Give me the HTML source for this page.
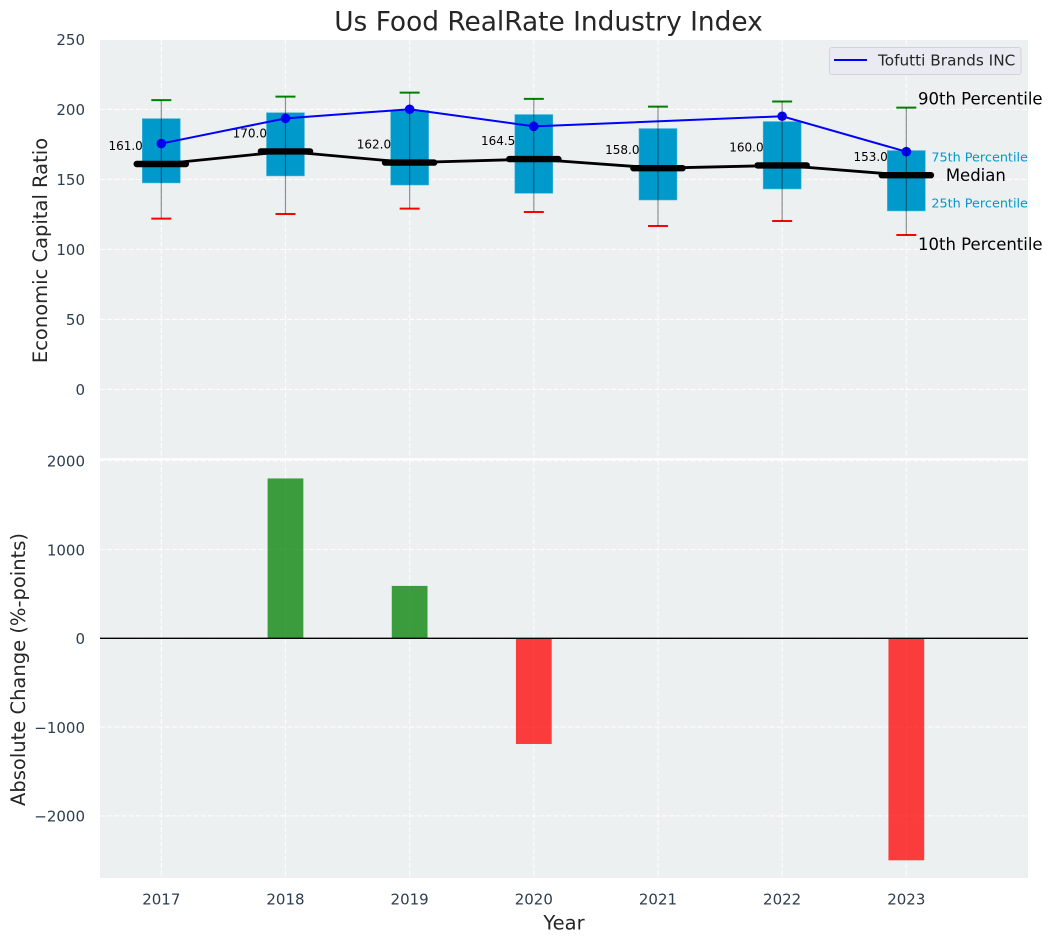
<!DOCTYPE html>
<html lang="en">
<head>
<meta charset="utf-8">
<title>Us Food RealRate Industry Index</title>
<style>
html,body{margin:0;padding:0;background:#fff;}
svg{display:block;font-family:"DejaVu Sans","Liberation Sans",sans-serif;}
</style>
</head>
<body>
<svg id="chart" xmlns="http://www.w3.org/2000/svg" width="1053" height="942" viewBox="0 0 1053 942">
  <rect x="100" y="40" width="928" height="419.5" fill="#ecf0f1"/>
  <rect x="100" y="460" width="928" height="418" fill="#ecf0f1"/>
  <g id="grid"></g>
  <g id="bars"></g>
  <g id="boxes"></g>
  <g id="series"></g>
  <g id="annotations"></g>
  <line x1="100" x2="1028" y1="459" y2="459" stroke="#ffffff" stroke-width="1.6"/>
  <g id="ticks"></g>

  <text x="548.5" y="22" text-anchor="middle" dominant-baseline="central" font-size="26.4" fill="#262626">Us Food RealRate Industry Index</text>
  <text transform="translate(40.5 250.5) rotate(-90)" text-anchor="middle" dominant-baseline="central" font-size="19.5" fill="#262626">Economic Capital Ratio</text>
  <text transform="translate(18.5 669.5) rotate(-90)" text-anchor="middle" dominant-baseline="central" font-size="19.5" fill="#262626">Absolute Change (%-points)</text>
  <text x="564" y="923" text-anchor="middle" dominant-baseline="central" font-size="19.5" fill="#262626">Year</text>

  <g>
    <rect x="829.5" y="47.5" width="191.5" height="27" rx="2.5" fill="#eaeaf2" stroke="#d2d3d8" stroke-width="1"/>
    <line x1="834" x2="867" y1="60" y2="60" stroke="#0000ff" stroke-width="2"/>
    <text x="878" y="60.5" dominant-baseline="central" font-size="15.3" fill="#262626">Tofutti Brands INC</text>
  </g>
</svg>
<script>
const years = [2017, 2018, 2019, 2020, 2021, 2022, 2023];
const p90 = [206.6, 209.1, 212, 207.5, 202, 205.6, 201.3];
const p75 = [193.4, 197.6, 199.2, 196.3, 186.3, 191.3, 170.6];
const medians = [161, 170, 162, 164.5, 158, 160, 153];
const p25 = [147.5, 152.5, 146, 140.1, 135.3, 143.2, 127.5];
const p10 = [122, 125.3, 129.1, 126.7, 116.7, 120.3, 110.3];
const companyValues = [175.6, 193.6, 200.1, 187.9, null, 195.1, 169.8];
const changeValues = [null, 1800, 590, -1190, null, null, -2500];
const upperTicks = [0, 50, 100, 150, 200, 250];
const lowerTicks = [-2000, -1000, 0, 1000, 2000];

const NS = 'http://www.w3.org/2000/svg';
function xScale(year) { return 161.3 + (year - 2017) * 124.17; }
function xLen(units) { return units * 124.17; }
function yUpper(v) { return 389.4 - v * 1.4; }
function yLower(v) { return 638.3 - v * 0.0888; }
function make(parent, tag, attrs, text) {
  const el = document.createElementNS(NS, tag);
  for (const k in attrs) el.setAttribute(k, attrs[k]);
  if (text !== undefined) el.textContent = text;
  parent.appendChild(el);
  return el;
}
const gridG = document.getElementById('grid');
const barsG = document.getElementById('bars');
const boxesG = document.getElementById('boxes');
const seriesG = document.getElementById('series');
const annG = document.getElementById('annotations');
const ticksG = document.getElementById('ticks');
const gridStyle = { stroke: '#ffffff', 'stroke-width': 1.1, 'stroke-dasharray': '5 2.2', opacity: 0.9 };

/* grid and tick labels */
years.forEach(function (yr) {
  const x = xScale(yr);
  const a = make(gridG, 'line', Object.assign({ x1: x, x2: x, y1: 40, y2: 459 }, gridStyle));
  
  
  const b = make(gridG, 'line', Object.assign({ x1: x, x2: x, y1: 460, y2: 878 }, gridStyle));
  
  
  const t = make(ticksG, 'text', { x: x, y: 899.5, 'text-anchor': 'middle', 'dominant-baseline': 'central', 'font-size': 15, fill: '#2c3e50' }, String(yr));
  
  
});
upperTicks.forEach(function (v) {
  const y = yUpper(v);
  const g = make(gridG, 'line', Object.assign({ x1: 100, x2: 1028, y1: y, y2: y }, gridStyle));
  
  
  const t = make(ticksG, 'text', { x: 85, y: y + 0.8, 'text-anchor': 'end', 'dominant-baseline': 'central', 'font-size': 15, fill: '#2c3e50' }, String(v));
  
  
});
lowerTicks.forEach(function (v) {
  const y = yLower(v);
  const g = make(gridG, 'line', Object.assign({ x1: 100, x2: 1028, y1: y, y2: y }, gridStyle));
  
  
  const label = v < 0 ? '\u2212' + Math.abs(v) : String(v);
  const t = make(ticksG, 'text', { x: 85, y: y + 0.8, 'text-anchor': 'end', 'dominant-baseline': 'central', 'font-size': 15, fill: '#2c3e50' }, label);
  
  
});

/* change bars */
years.forEach(function (yr, i) {
  const v = changeValues[i];
  if (v === null) return;
  const w = xLen(0.288);
  const y0 = yLower(0), y1 = yLower(v);
  const r = make(barsG, 'rect', {
    x: xScale(yr) - w / 2, y: Math.min(y0, y1), width: w, height: Math.abs(y1 - y0),
    fill: v >= 0 ? '#008000' : '#ff0000', 'fill-opacity': 0.75
  });
  
  
});
const zero = make(barsG, 'line', { x1: 100, x2: 1028, y1: yLower(0), y2: yLower(0), stroke: '#000000', 'stroke-width': 1.3 });



/* percentile boxes and caps */
years.forEach(function (yr, i) {
  const x = xScale(yr);
  const w = xLen(0.305);
  const box = make(boxesG, 'rect', {
    x: x - w / 2, y: yUpper(p75[i]), width: w, height: yUpper(p25[i]) - yUpper(p75[i]),
    fill: '#0099cc', stroke: '#3fb2d8', 'stroke-width': 0.6
  });
  
  
  const capTop = make(boxesG, 'line', { x1: x - 10, x2: x + 10, y1: yUpper(p90[i]), y2: yUpper(p90[i]), stroke: '#008000', 'stroke-width': 2 });
  
  
  const capBot = make(boxesG, 'line', { x1: x - 10, x2: x + 10, y1: yUpper(p10[i]), y2: yUpper(p10[i]), stroke: '#ff0000', 'stroke-width': 2 });
  
  
});

/* median line */
const medianPts = years.map(function (yr, i) { return xScale(yr) + ',' + yUpper(medians[i]); }).join(' ');
const medLine = make(seriesG, 'polyline', { points: medianPts, fill: 'none', stroke: '#000000', 'stroke-width': 2.8 });


years.forEach(function (yr, i) {
  const x = xScale(yr), y = yUpper(medians[i]);
  const half = xLen(0.198);
  const m = make(seriesG, 'line', { x1: x - half, x2: x + half, y1: y, y2: y, stroke: '#000000', 'stroke-width': 6.4, 'stroke-linecap': 'round' });
  
  
  const t = make(seriesG, 'text', { x: x - 18.5, y: y - 18, 'text-anchor': 'end', 'dominant-baseline': 'central', 'font-size': 12, fill: '#000000' }, medians[i].toFixed(1));
  
  
});

/* company line: missing years are bridged, and get no marker */
const companyPts = [];
years.forEach(function (yr, i) {
  if (companyValues[i] !== null) companyPts.push(xScale(yr) + ',' + yUpper(companyValues[i]));
});
const compLine = make(seriesG, 'polyline', { points: companyPts.join(' '), fill: 'none', stroke: '#0000ff', 'stroke-width': 2 });


years.forEach(function (yr, i) {
  if (companyValues[i] === null) return;
  const c = make(seriesG, 'circle', { cx: xScale(yr), cy: yUpper(companyValues[i]), r: 4.8, fill: '#0000ff' });
  
  
});

/* whisker stems on top */
years.forEach(function (yr, i) {
  const x = xScale(yr);
  const s = make(seriesG, 'line', { x1: x, x2: x, y1: yUpper(p90[i]), y2: yUpper(p10[i]), stroke: '#000000', 'stroke-opacity': 0.42, 'stroke-width': 1.2 });
  
  
});

/* annotations tied to the final year */
const last = years.length - 1;
const lastX = xScale(years[last]);
const a90 = make(annG, 'text', { x: lastX + 11.7, y: yUpper(p90[last]) - 8.5, 'dominant-baseline': 'central', 'font-size': 16.5, fill: '#000000' }, '90th Percentile');


const a10 = make(annG, 'text', { x: lastX + 11.7, y: yUpper(p10[last]) + 9.5, 'dominant-baseline': 'central', 'font-size': 16.5, fill: '#000000' }, '10th Percentile');


const a75 = make(annG, 'text', { x: lastX + 25, y: yUpper(p75[last]) + 7.5, 'dominant-baseline': 'central', 'font-size': 12.8, fill: '#0099cc' }, '75th Percentile');


const a25 = make(annG, 'text', { x: lastX + 25, y: yUpper(p25[last]) - 7, 'dominant-baseline': 'central', 'font-size': 12.8, fill: '#0099cc' }, '25th Percentile');


const aMed = make(annG, 'text', { x: lastX + 39.5, y: yUpper(medians[last]) + 0.5, 'dominant-baseline': 'central', 'font-size': 16.5, fill: '#000000' }, 'Median');


</script>
</body>
</html>
